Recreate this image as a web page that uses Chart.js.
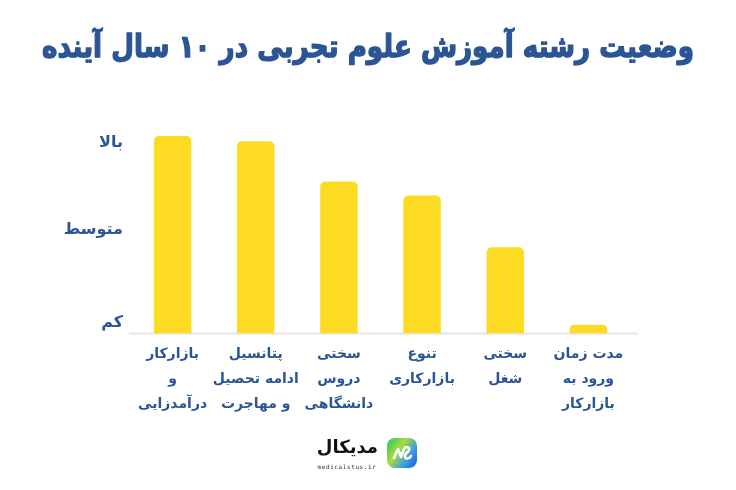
<!DOCTYPE html>
<html lang="fa">
<head>
<meta charset="utf-8">
<script src="https://cdn.jsdelivr.net/npm/chart.js@4.4.1/dist/chart.umd.min.js"></script>
<style>
  html, body { margin: 0; padding: 0; background: #ffffff; }
  #wrap { position: relative; width: 736px; height: 490px; overflow: hidden; }
  #c { position: absolute; left: 0; top: 0; }
  #logoText { position: absolute; right: calc(736px - 378px); top: 436px; font-family: "DejaVu Sans", sans-serif; font-weight: bold; font-size: 18px; color: #111; direction: rtl; white-space: nowrap; }
  #logoSub { position: absolute; left: 316px; top: 463px; width: 62px; text-align: center; font-family: "DejaVu Sans Mono", monospace; font-size: 6px; letter-spacing: 0.6px; color: #333; white-space: nowrap; }
  #logoIcon { position: absolute; left: 387px; top: 438px; width: 30px; height: 30px; border-radius: 8px;
    background: linear-gradient(125deg, #21c26a 0%, #a8dd3c 38%, #3a9be6 70%, #1c5ad8 100%); }
</style>
</head>
<body>
<div id="wrap">
  <canvas id="c" width="736" height="490"></canvas>
  <div id="logoIcon"><svg width="30" height="30" viewBox="0 0 30 30"><path d="M7 20 L11 11 L14 19 L17 11 C19 8 23 9 22 12 C21 15 17 15 18 19 C19 22 23 20 24 18" fill="none" stroke="#fff" stroke-width="2.6" stroke-linecap="round" stroke-linejoin="round"/></svg></div>
  <div id="logoText">مدیکال</div>
  <div id="logoSub">medicalstus.ir</div>
</div>
<script>
const titleText = "وضعیت رشته آموزش علوم تجربی در ۱۰ سال آینده";
const categories = [
  ["بازارکار", "و", "درآمدزایی"],
  ["پتانسیل", "ادامه تحصیل", "و مهاجرت"],
  ["سختی", "دروس", "دانشگاهی"],
  ["تنوع", "بازارکاری"],
  ["سختی", "شغل"],
  ["مدت زمان", "ورود به", "بازارکار"]
];
const values = [95.2, 92.6, 73.2, 66.5, 41.5, 4.2];
const levelValues = [5, 50, 92];
const levelLabels = ["کم", "متوسط", "بالا"];

const navy = "#2b5594";
const yellow = "#fddb22";
const fontFam = "'DejaVu Sans', 'Noto Sans', sans-serif";

const titlePlugin = {
  id: "pageTitle",
  afterDraw(chart) {
    const ctx = chart.ctx;
    ctx.save();
    ctx.font = "bold 31px " + fontFam;
    ctx.fillStyle = navy;
    ctx.strokeStyle = navy;
    ctx.lineWidth = 1.4;
    ctx.lineJoin = "round";
    ctx.textAlign = "center";
    ctx.textBaseline = "middle";
    const w = ctx.measureText(titleText).width;
    const target = 652;
    const sx = Math.min(1, target / w);
    ctx.translate(chart.width / 2, 49);
    ctx.scale(sx, 1);
    ctx.fillText(titleText, 0, 0);
    ctx.strokeText(titleText, 0, 0);
    ctx.restore();
  }
};

const axisLinePlugin = {
  id: "axisLine",
  beforeDatasetsDraw(chart) {
    const a = chart.chartArea;
    const ctx = chart.ctx;
    ctx.save();
    ctx.strokeStyle = "#e6e6e6";
    ctx.lineWidth = 2;
    ctx.beginPath();
    ctx.moveTo(a.left - 2, a.bottom);
    ctx.lineTo(a.right + 8, a.bottom);
    ctx.stroke();
    ctx.restore();
  }
};

new Chart(document.getElementById("c"), {
  type: "bar",
  data: {
    labels: categories,
    datasets: [{
      data: values,
      backgroundColor: yellow,
      borderRadius: 5,
      borderSkipped: "start",
      barPercentage: 0.45,
      categoryPercentage: 1.0
    }]
  },
  options: {
    responsive: false,
    animation: false,
    devicePixelRatio: 1,
    layout: { padding: { left: 0, right: 106, top: 126, bottom: 65 } },
    plugins: {
      legend: { display: false },
      tooltip: { enabled: false },
      title: { display: false }
    },
    scales: {
      x: {
        grid: { display: false, drawTicks: false },
        border: { display: false },
        ticks: {
          color: navy,
          padding: 8,
          maxRotation: 0,
          autoSkip: false,
          font: { family: fontFam, size: 14, weight: "bold", lineHeight: 1.8 }
        }
      },
      y: {
        min: 0,
        max: 100,
        grid: { display: false, drawTicks: false },
        border: { display: false },
        afterFit: (s) => { s.width = 131; },
        afterBuildTicks: (s) => { s.ticks = levelValues.map(v => ({ value: v })); },
        ticks: {
          color: navy,
          padding: 8,
          font: { family: fontFam, size: 16, weight: "bold" },
          callback: (v) => {
            const i = levelValues.indexOf(v);
            return i >= 0 ? levelLabels[i] : "";
          }
        }
      }
    }
  },
  plugins: [axisLinePlugin, titlePlugin]
});
</script>
</body>
</html>
